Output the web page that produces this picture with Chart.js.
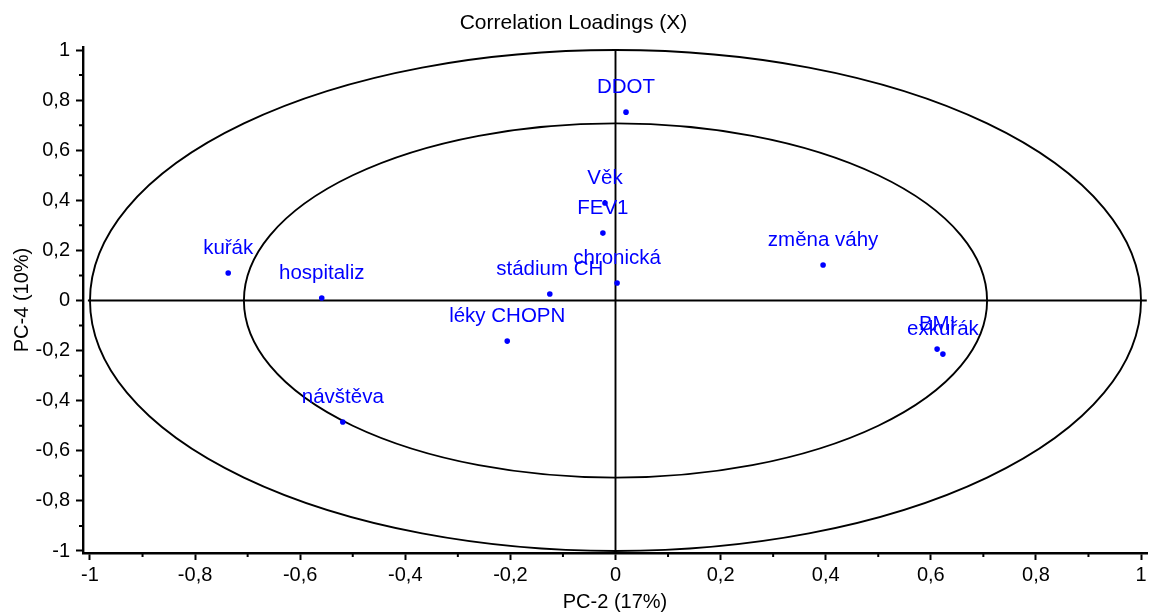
<!DOCTYPE html>
<html>
<head>
<meta charset="utf-8">
<script src="https://cdn.jsdelivr.net/npm/chart.js@4"></script>
<style>
html,body{margin:0;padding:0;background:#fff;}
#wrap{width:1151px;height:614px;position:relative;}
</style>
</head>
<body>
<div id="wrap"><canvas id="c" width="1151" height="614"></canvas></div>
<script>
const categories = ['DDOT','Věk','FEV1','chronická','stádium CH','léky CHOPN','kuřák','hospitaliz','návštěva','změna váhy','BMI','exkuřák'];
const pc2 = [0.020,-0.020,-0.024,0.003,-0.125,-0.206,-0.737,-0.559,-0.519,0.395,0.612,0.623];
const pc4 = [0.752,0.389,0.269,0.070,0.026,-0.162,0.110,0.010,-0.485,0.142,-0.194,-0.214];
const majorTicks = [-1,-0.8,-0.6,-0.4,-0.2,0,0.2,0.4,0.6,0.8,1];
const minorTicks = [-0.9,-0.7,-0.5,-0.3,-0.1,0.1,0.3,0.5,0.7,0.9];
const ellipseRadii = [1, 0.7071];

const FONT = 'Liberation Sans, Arial, Helvetica, sans-serif';
const fmt = v => String(+Number(v).toFixed(1)).replace('.', ',');

const refPlugin = {
  id: 'refShapes',
  beforeDatasetsDraw(chart) {
    const {ctx, scales:{x, y}} = chart;
    const cx = x.getPixelForValue(0), cy = y.getPixelForValue(0);
    ctx.save();
    ctx.strokeStyle = '#000';
    ctx.lineWidth = 1.9;
    ellipseRadii.forEach(r => {
      const rx = x.getPixelForValue(r) - cx;
      const ry = cy - y.getPixelForValue(r);
      ctx.beginPath();
      ctx.ellipse(cx, cy, rx, ry, 0, 0, Math.PI * 2);
      ctx.stroke();
    });
    ctx.beginPath();
    ctx.moveTo(x.getPixelForValue(-1.004), cy);
    ctx.lineTo(x.getPixelForValue(1.011), cy);
    ctx.moveTo(cx, y.getPixelForValue(1));
    ctx.lineTo(cx, y.getPixelForValue(-1));
    ctx.stroke();
    ctx.restore();
  },
  afterDatasetsDraw(chart) {
    const {ctx} = chart;
    const meta = chart.getDatasetMeta(0);
    ctx.save();
    ctx.fillStyle = '#0000ff';
    ctx.font = '20.5px ' + FONT;
    ctx.textAlign = 'center';
    ctx.textBaseline = 'middle';
    meta.data.forEach((pt, i) => {
      ctx.fillText(categories[i], pt.x, pt.y - 25);
    });
    ctx.restore();
  },
  afterDraw(chart) {
    const {ctx, scales:{x, y}, chartArea} = chart;
    ctx.save();
    ctx.strokeStyle = '#000';
    ctx.lineWidth = 2;
    ctx.beginPath();
    minorTicks.forEach(v => {
      const px = x.getPixelForValue(v);
      ctx.moveTo(px, chartArea.bottom);
      ctx.lineTo(px, chartArea.bottom + 4);
      const py = y.getPixelForValue(v);
      ctx.moveTo(chartArea.left, py);
      ctx.lineTo(chartArea.left - 4, py);
    });
    ctx.stroke();
    ctx.restore();
  }
};

new Chart(document.getElementById('c'), {
  type: 'scatter',
  data: {
    datasets: [{
      data: pc2.map((v, i) => ({x: v, y: pc4[i]})),
      pointRadius: 2.8,
      pointHoverRadius: 2.8,
      pointBackgroundColor: '#0000ff',
      pointBorderWidth: 0,
      borderWidth: 0
    }]
  },
  options: {
    responsive: false,
    animation: false,
    devicePixelRatio: 1,
    layout: {padding: {left: 0, right: 4, top: 0, bottom: 0}},
    plugins: {
      legend: {display: false},
      tooltip: {enabled: false},
      title: {
        display: true,
        text: 'Correlation Loadings (X)',
        color: '#000',
        font: {family: FONT, size: 21, weight: 'normal'},
        padding: {top: 11, bottom: 10.8}
      }
    },
    scales: {
      x: {
        type: 'linear',
        min: -1.0133,
        max: 1.0114,
        afterFit: s => { s.height = 61; },
        afterBuildTicks: s => { s.ticks = majorTicks.map(v => ({value: v})); },
        border: {display: true, color: '#000', width: 2.4},
        grid: {drawOnChartArea: false, drawTicks: true, tickLength: 7, tickWidth: 2, tickColor: '#000'},
        ticks: {color: '#000', padding: 3, font: {family: FONT, size: 20}, callback: v => fmt(v), maxRotation: 0, autoSkip: false},
        title: {display: true, text: 'PC-2 (17%)', color: '#000', font: {family: FONT, size: 20}, padding: {top: 0, bottom: 0}}
      },
      y: {
        type: 'linear',
        min: -1.008,
        max: 1.012,
        afterFit: s => { s.width = 83; },
        afterBuildTicks: s => { s.ticks = majorTicks.map(v => ({value: v})); },
        border: {display: true, color: '#000', width: 2.4},
        grid: {drawOnChartArea: false, drawTicks: true, tickLength: 7, tickWidth: 2, tickColor: '#000'},
        ticks: {color: '#000', padding: 6, font: {family: FONT, size: 20}, callback: v => fmt(v), autoSkip: false},
        title: {display: true, text: 'PC-4 (10%)', color: '#000', font: {family: FONT, size: 20}, padding: {top: 10, bottom: 0}}
      }
    }
  },
  plugins: [refPlugin]
});
</script>
</body>
</html>
